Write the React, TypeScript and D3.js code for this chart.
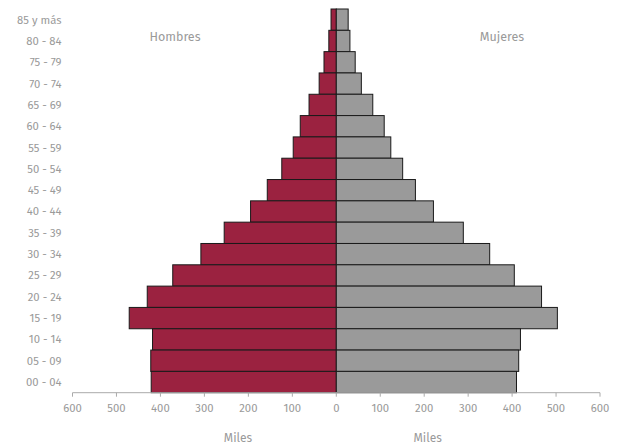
import React from "react";
import * as d3 from "d3";

const ageGroups = ["85 y más", "80 - 84", "75 - 79", "70 - 74", "65 - 69", "60 - 64", "55 - 59", "50 - 54", "45 - 49", "40 - 44", "35 - 39", "30 - 34", "25 - 29", "20 - 24", "15 - 19", "10 - 14", "05 - 09", "00 - 04"];
const hombres = [12, 17, 28, 39, 62, 82, 98, 124, 157, 195, 255, 308, 372, 430, 471, 418, 422, 421];
const mujeres = [27, 31, 43, 57, 83, 109, 124, 151, 180, 221, 289, 349, 405, 467, 503, 419, 415, 410];
const ticks = [0, 100, 200, 300, 400, 500, 600];

export default function App() {
  const W = 617, H = 444;
  const x0 = 336.3;
  const xL = d3.scaleLinear().domain([0, 600]).range([x0, 72.5]);
  const xR = d3.scaleLinear().domain([0, 600]).range([x0, 600]);
  const y = d3.scaleBand().domain(ageGroups).range([9, 392.7]).padding(0);
  const axisY = 392.7;
  const font = "'Fira Sans', 'Open Sans', 'Noto Sans', sans-serif";
  const grey = "#9a9a9a";
  const fs = 11.3;
  return (
    <svg width={W} height={H} style={{ position: "absolute", left: 0, top: 0 }} fontFamily={font}>
      {ageGroups.map((g, i) => (
        <g key={g}>
          <rect x={xL(hombres[i])} y={y(g)!} width={x0 - xL(hombres[i])} height={y.bandwidth()} fill="#9b2240" stroke="#1a1a1a" strokeWidth={1} />
          <rect x={x0} y={y(g)!} width={xR(mujeres[i]) - x0} height={y.bandwidth()} fill="#9a9a9a" stroke="#1a1a1a" strokeWidth={1} />
          <text x={61.5} y={y(g)! + y.bandwidth() / 2} dy="0.35em" textAnchor="end" fontSize={fs} fill={grey}>{g}</text>
        </g>
      ))}
      <line x1={xL(600)} x2={xR(600)} y1={axisY} y2={axisY} stroke="#aaa" strokeWidth={1} />
      {ticks.map((t) => (
        <g key={"l" + t}>
          <line x1={xL(t)} x2={xL(t)} y1={axisY} y2={axisY + 4} stroke="#aaa" />
          <text x={xL(t)} y={408} dy="0.35em" textAnchor="middle" fontSize={fs} fill={grey}>{t}</text>
          {t > 0 && <line x1={xR(t)} x2={xR(t)} y1={axisY} y2={axisY + 4} stroke="#aaa" />}
          {t > 0 && <text x={xR(t)} y={408} dy="0.35em" textAnchor="middle" fontSize={fs} fill={grey}>{t}</text>}
        </g>
      ))}
      <text x={238} y={437.5} dy="0.35em" textAnchor="middle" fontSize={12} fill={grey}>Miles</text>
      <text x={427.7} y={437.5} dy="0.35em" textAnchor="middle" fontSize={12} fill={grey}>Miles</text>
      <text x={175} y={37} dy="0.35em" textAnchor="middle" fontSize={12.5} fill={grey}>Hombres</text>
      <text x={502} y={37} dy="0.35em" textAnchor="middle" fontSize={12.5} fill={grey}>Mujeres</text>
    </svg>
  );
}
